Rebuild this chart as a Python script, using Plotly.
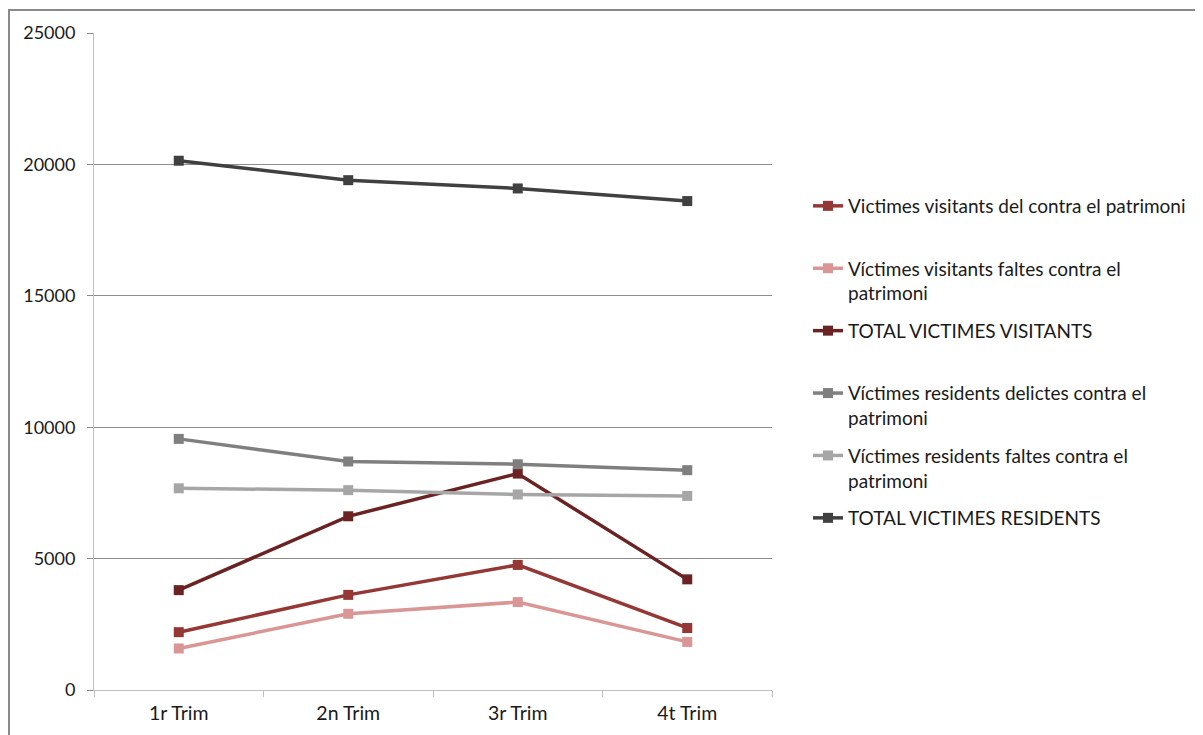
import plotly.graph_objects as go

categories = ["1r Trim", "2n Trim", "3r Trim", "4t Trim"]

series_names = [
    "Victimes visitants del contra el patrimoni<br> ",
    "Víctimes visitants faltes contra el<br>patrimoni",
    "TOTAL VICTIMES VISITANTS<br> ",
    "Víctimes residents delictes contra el<br>patrimoni",
    "Víctimes residents faltes contra el<br>patrimoni",
    "TOTAL VICTIMES RESIDENTS<br> ",
]

visitants_del = [2200, 3620, 4760, 2360]
visitants_faltes = [1580, 2900, 3345, 1830]
total_visitants = [3800, 6610, 8235, 4210]
residents_delictes = [9555, 8695, 8590, 8365]
residents_faltes = [7675, 7605, 7440, 7385]
total_residents = [20140, 19400, 19085, 18605]

series_values = [visitants_del, visitants_faltes, total_visitants,
                 residents_delictes, residents_faltes, total_residents]
series_colors = ["#953735", "#D99694", "#6A2322", "#7F7F7F", "#A6A6A6", "#404040"]

FONT = "Lato, 'Open Sans', sans-serif"

fig = go.Figure()
for i, (name, vals, col) in enumerate(zip(series_names, series_values, series_colors)):
    fig.add_trace(go.Scatter(
        x=categories, y=vals, name=name, mode="lines+markers",
        line=dict(color=col, width=3.5),
        marker=dict(symbol="square", size=10, color=col),
        legendgroup="g%d" % i,
    ))

OFF = 8  # page body margin
W, H = 1195, 727
L, T = 86, 25
pw, ph = 678, 657
R = W - L - pw
B = H - T - ph

def px2x(px):
    return (px - OFF - L) / pw

def px2y(py):
    return (OFF + T + ph - py) / ph

fig.update_layout(
    width=W, height=H,
    margin=dict(l=L, r=R, t=T, b=B),
    paper_bgcolor="white", plot_bgcolor="white",
    font=dict(family=FONT, size=17, color="#1a1a1a"),
    showlegend=True,
    legend=dict(
        x=px2x(808), y=px2y(187), xanchor="left", yanchor="top",
        font=dict(family=FONT, size=19, color="#1a1a1a"),
        valign="top", tracegroupgap=10, itemwidth=30,
        bgcolor="rgba(0,0,0,0)",
    ),
    xaxis=dict(
        type="category", showgrid=False, showline=True, linecolor="#BFBFBF", linewidth=1,
        ticks="outside", tickson="boundaries", ticklen=6, tickcolor="#BFBFBF",
        tickfont=dict(family=FONT, size=19.5, color="#1a1a1a"), zeroline=False,
        ticklabelstandoff=6,
        range=[-0.5, 3.5],
    ),
    yaxis=dict(
        range=[0, 25000], dtick=5000, showgrid=True, gridcolor="#8C8C8C", gridwidth=1,
        showline=True, linecolor="#BFBFBF", linewidth=1, ticks="outside", ticklen=6,
        tickcolor="#8C8C8C", tickformat="d", zeroline=False, ticklabelstandoff=8,
        tickfont=dict(family=FONT, size=18, color="#1a1a1a"),
    ),
    shapes=[dict(
        type="rect", xref="paper", yref="paper",
        x0=px2x(9), x1=px2x(1260), y0=px2y(800), y1=px2y(10),
        line=dict(color="#8A8A8A", width=2), fillcolor="rgba(0,0,0,0)", layer="below",
    )],
)

fig.write_html("out.html")
